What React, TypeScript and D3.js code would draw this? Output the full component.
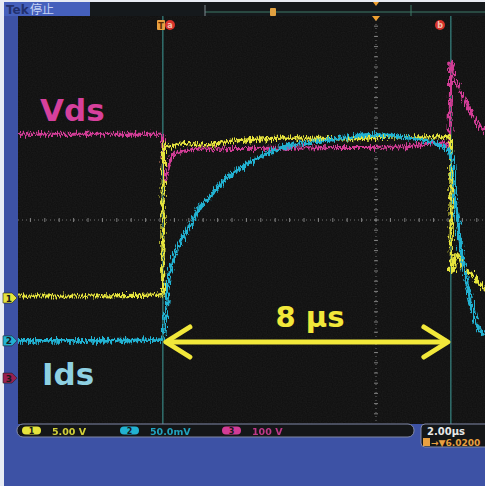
import React from "react";
import * as d3 from "d3";

// ch1 (yellow) gate voltage, 5 V/div
const ch1Time = [-4.1, -2, -0.05, -0.01, 0.02, 0.19, 0.47, 1.03, 2, 3.8, 5, 6.58, 7.92, 7.99, 8.02, 8.17, 8.31, 8.58, 8.83, 8.95];
const ch1Volts = [0.2, 0.2, 0.3, 0.6, 15.2, 14.8, 15.2, 15.0, 15.4, 15.7, 15.6, 15.8, 15.8, 15.6, 2.45, 4.4, 3.2, 2.25, 1.3, 0.8];

// ch2 (cyan) Ids, 50 mV/div
const ch2Time = [-4.1, -2, -0.02, 0.06, 0.19, 0.47, 0.75, 1.03, 1.31, 1.58, 2.42, 3.25, 4.64, 5.75, 6.86, 7.69, 7.92, 8.03, 8.11, 8.25, 8.39, 8.56, 8.75, 8.95];
const ch2MilliVolts = [0, 0, 1, 20.6, 67.6, 96, 112.7, 131, 141, 153, 175, 189, 197, 202, 199, 192, 187, 177, 143, 99, 67, 37, 14, 6];

// ch3 (magenta) Vds, 100 V/div
const ch3Time = [-4.1, -2, -0.05, -0.01, 0.03, 0.19, 0.25, 0.47, 1.03, 2, 3.8, 5, 6.58, 7.83, 7.97, 8.0, 8.14, 8.39, 8.67, 8.95];
const ch3Volts = [478, 478, 478, 467, 388, 422, 437, 443, 449, 450, 451, 452, 453, 461, 455, 620, 584, 545, 506, 484];

const channelLabels = ["1", "2", "3"];
const channelScaleText = ["5.00 V", "50.0mV", "100 V"];
const channelPerDiv = [5, 50, 100];
const channelOffsetDiv = [-1.53, -2.37, -3.1];
const channelColors = ["#e6e43c", "#22b2d2", "#d23c96"];

const cursorTimes = [0, 8];
const timePerDiv = 2; // µs
const timeCenter = 5.92;
const timebaseText = "2.00µs";
const triggerText = "→▼6.0200";

const W = 485;
const H = 486;
const centerX = 376;
const centerY = 220;
const divX = 72;
const divY = 51;

export default function App() {
  const x = d3
    .scaleLinear()
    .domain([timeCenter - 5 * timePerDiv, timeCenter + 5 * timePerDiv])
    .range([centerX - 5 * divX, centerX + 5 * divX]);
  const divScale = d3.scaleLinear().domain([-4, 4]).range([centerY + 4 * divY, centerY - 4 * divY]);

  const chY = (ch: number) => (v: number) => divScale(channelOffsetDiv[ch] + v / channelPerDiv[ch]);
  const traces = [
    { t: ch1Time, v: ch1Volts },
    { t: ch2Time, v: ch2MilliVolts },
    { t: ch3Time, v: ch3Volts },
  ];
  const paths = traces.map((tr, ch) => {
    const yf = chY(ch);
    const line = d3
      .line<number>()
      .x((_, i) => x(tr.t[i]))
      .y((d) => yf(d))
      .curve(d3.curveMonotoneX);
    return line(tr.v) || "";
  });

  const top = divScale(4);
  const bottom = divScale(-4);
  const left = 18;

  // minor ticks on the centre lines
  const hTicks = d3.range(-50, 51).map((i) => centerX + (i * divX) / 5).filter((v) => v > left && v < W);
  const vTicks = d3.range(-20, 21).map((i) => centerY + (i * divY) / 5).filter((v) => v > top && v < bottom);

  const arrowY = 342;
  const ax0 = x(cursorTimes[0]) + 3;
  const ax1 = x(cursorTimes[1]) - 3;
  const yellow = "#f2e83a";

  const sans = "'DejaVu Sans', Verdana, sans-serif";

  return (
    <svg width={W} height={H} style={{ position: "absolute", left: 0, top: 0 }} fontFamily={sans}>
      <defs>
        <filter id="jitter" filterUnits="userSpaceOnUse" x={0} y={0} width={W} height={H}>
          <feTurbulence type="fractalNoise" baseFrequency="0.9 0.15" numOctaves={2} seed={3} result="n" />
          <feDisplacementMap in="SourceGraphic" in2="n" scale={10} xChannelSelector="R" yChannelSelector="G" />
        </filter>
        <filter id="grain" filterUnits="userSpaceOnUse" x={0} y={0} width={W} height={H}>
          <feTurbulence type="fractalNoise" baseFrequency="0.8" numOctaves={1} seed={7} />
          <feColorMatrix type="saturate" values="0" />
        </filter>
        <clipPath id="scr">
          <rect x={left} y={top} width={W - left} height={bottom - top} />
        </clipPath>
      </defs>

      <rect width={W} height={H} fill="#3d52a5" />
      <rect x={0} y={0} width={4} height={H} fill="#e8ecf4" />
      <rect x={0} y={0} width={W} height={2} fill="#e8ecf4" />

      {/* header */}
      <rect x={4} y={2} width={86} height={14} fill="#4560bc" />
      <text x={6} y={14} fontSize={12} fontWeight="bold" fill="#22306e">Tek</text>
      <text x={30} y={14} fontSize={12} fill="#c4d2f4" fontFamily="'Noto Sans CJK JP', sans-serif">停止</text>
      <rect x={90} y={2} width={W - 90} height={14} fill="#15191c" />
      <line x1={205} x2={W} y1={12} y2={12} stroke="#3f7a66" strokeWidth={1.2} />
      <line x1={205} x2={205} y1={5} y2={16} stroke="#7f8a90" />
      <line x1={411} x2={411} y1={5} y2={16} stroke="#3f7a66" />
      <rect x={270} y={8} width={6} height={8} rx={1} fill="#e0a040" />
      <path d={`M${centerX - 3},2 L${centerX + 3},2 L${centerX},6 Z`} fill="#f0a030" />

      {/* screen */}
      <rect x={left} y={top} width={W - left} height={bottom - top} fill="#0e0e0e" />
      <rect x={left} y={top} width={W - left} height={bottom - top} filter="url(#grain)" opacity={0.08} clipPath="url(#scr)" />

      <g clipPath="url(#scr)">
        <line x1={left} x2={W} y1={centerY} y2={centerY} stroke="#8a8a8a" strokeDasharray="1 3" strokeWidth={0.8} />
        <line x1={centerX} x2={centerX} y1={top} y2={bottom} stroke="#8a8a8a" strokeDasharray="1 3" strokeWidth={0.8} />
        {hTicks.map((v, i) => (
          <line key={"h" + i} x1={v} x2={v} y1={centerY - 2} y2={centerY + 2} stroke="#9a9a9a" strokeWidth={0.8} />
        ))}
        {vTicks.map((v, i) => (
          <line key={"v" + i} x1={centerX - 2} x2={centerX + 2} y1={v} y2={v} stroke="#9a9a9a" strokeWidth={0.8} />
        ))}
        {cursorTimes.map((t, i) => (
          <line key={"c" + i} x1={x(t)} x2={x(t)} y1={top} y2={bottom} stroke="#3f9d9a" strokeWidth={1} />
        ))}

        <g filter="url(#jitter)" fill="none" strokeLinejoin="round">
          <path d={paths[2]} stroke={channelColors[2]} strokeWidth={3} />
          <path d={paths[0]} stroke={channelColors[0]} strokeWidth={3.2} />
          <path d={paths[1]} stroke={channelColors[1]} strokeWidth={3.6} />
        </g>
      </g>

      {/* top markers */}
      <rect x={157} y={20} width={8} height={10} rx={1} fill="#e8a040" />
      <text x={161} y={28.5} fontSize={8} fontWeight="bold" textAnchor="middle" fill="#5a2a00">T</text>
      <circle cx={170} cy={25} r={5} fill="#d8342c" />
      <text x={170} y={28} fontSize={8} fontWeight="bold" textAnchor="middle" fill="#f0c0b0">a</text>
      <circle cx={440} cy={25} r={5} fill="#d8342c" />
      <text x={440} y={28} fontSize={8} fontWeight="bold" textAnchor="middle" fill="#f0c0b0">b</text>
      <path d={`M${centerX - 4},${top} L${centerX + 4},${top} L${centerX},${top + 5} Z`} fill="#f0a030" />

      {/* ground markers */}
      {channelLabels.map((lab, ch) => {
        const gy = divScale(channelOffsetDiv[ch]);
        return (
          <g key={"g" + ch}>
            <path d={`M3,${gy - 5} L12,${gy - 5} L17,${gy} L12,${gy + 5} L3,${gy + 5} Z`} fill={ch === 2 ? "#9a2050" : channelColors[ch]} stroke="#222" strokeWidth={0.6} />
            <text x={9} y={gy + 3.5} fontSize={9} fontWeight="bold" textAnchor="middle" fill="#1a1a1a">{lab}</text>
          </g>
        );
      })}

      {/* annotations */}
      <text x={40} y={121} fontSize={31} fontWeight="bold" fill="#d6409c">Vds</text>
      <text x={42} y={385} fontSize={31} fontWeight="bold" fill="#8ed0e2">Ids</text>
      <text x={310} y={327} fontSize={29} fontWeight="bold" textAnchor="middle" fill={yellow}>8 µs</text>
      <g stroke={yellow} strokeWidth={5} strokeLinecap="round" strokeLinejoin="round" fill="none">
        <line x1={ax0 + 2} x2={ax1 - 2} y1={arrowY} y2={arrowY} />
        <path d={`M${ax0 + 24},${arrowY - 15} L${ax0},${arrowY} L${ax0 + 24},${arrowY + 15}`} />
        <path d={`M${ax1 - 24},${arrowY - 15} L${ax1},${arrowY} L${ax1 - 24},${arrowY + 15}`} />
      </g>

      {/* status bar */}
      <rect x={17} y={424} width={397} height={13} rx={6} fill="#141618" stroke="#8088a8" strokeWidth={1} />
      {channelLabels.map((lab, ch) => {
        const px = [22, 120, 222][ch];
        return (
          <g key={"s" + ch}>
            <rect x={px} y={426.5} width={19} height={8} rx={4} fill={channelColors[ch]} />
            <text x={px + 9.5} y={434} fontSize={8} fontWeight="bold" textAnchor="middle" fill="#1a1a1a">{lab}</text>
            <text x={px + 30} y={434.5} fontSize={9.5} fontWeight="bold" fill={channelColors[ch]} opacity={0.9}>{channelScaleText[ch]}</text>
          </g>
        );
      })}
      <rect x={421} y={424} width={70} height={23} rx={4} fill="#141618" stroke="#8088a8" strokeWidth={1} />
      <text x={427} y={435} fontSize={10} fontWeight="bold" fill="#e8e8e8">{timebaseText}</text>
      <rect x={423} y={438} width={7} height={8} fill="#e8a040" />
      <text x={431} y={445.5} fontSize={9} fontWeight="bold" fill="#e8a040">{triggerText}</text>
    </svg>
  );
}
